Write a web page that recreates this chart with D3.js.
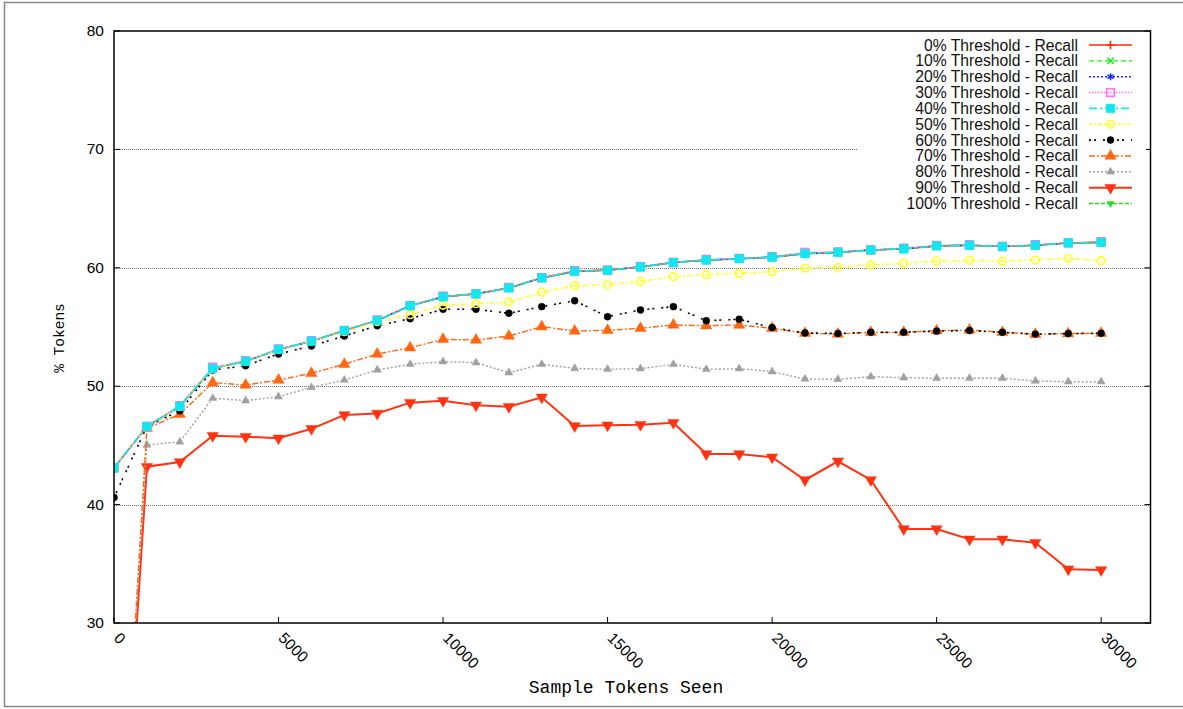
<!DOCTYPE html>
<html>
<head>
<meta charset="utf-8">
<script src="https://cdn.jsdelivr.net/npm/d3@7"></script>
<style>
  body { margin: 0; background: #fff; }
  svg { display: block; }
</style>
</head>
<body>
<div id="chart"></div>
<script>
'use strict';

// sample sizes (x axis)
const tokensSeen = [0, 1000, 2000, 3000, 4000, 5000, 6000, 7000, 8000, 9000, 10000,
  11000, 12000, 13000, 14000, 15000, 16000, 17000, 18000, 19000, 20000,
  21000, 22000, 23000, 24000, 25000, 26000, 27000, 28000, 29000, 30000];

const recall0 = [43.1, 46.6, 48.3, 51.5, 52.1, 53.1, 53.8, 54.7, 55.55, 56.8, 57.55, 57.8, 58.3, 59.15, 59.7, 59.8, 60.07, 60.45, 60.65, 60.77, 60.9, 61.2, 61.3, 61.5, 61.6, 61.85, 61.9, 61.8, 61.9, 62.1, 62.15];
const recall10 = [43.1, 46.6, 48.3, 51.5, 52.1, 53.1, 53.8, 54.7, 55.55, 56.8, 57.55, 57.8, 58.3, 59.15, 59.7, 59.8, 60.07, 60.45, 60.65, 60.77, 60.9, 61.2, 61.3, 61.5, 61.6, 61.85, 61.9, 61.8, 61.9, 62.1, 62.15];
const recall20 = [43.1, 46.6, 48.3, 51.5, 52.1, 53.1, 53.8, 54.7, 55.55, 56.8, 57.55, 57.8, 58.3, 59.15, 59.7, 59.8, 60.07, 60.45, 60.65, 60.77, 60.9, 61.2, 61.3, 61.5, 61.6, 61.85, 61.9, 61.8, 61.9, 62.1, 62.15];
const recall30 = [43.1, 46.6, 48.35, 51.6, 52.15, 53.15, 53.85, 54.7, 55.6, 56.8, 57.6, 57.8, 58.35, 59.15, 59.75, 59.8, 60.1, 60.45, 60.7, 60.8, 60.95, 61.3, 61.35, 61.5, 61.65, 61.9, 61.95, 61.8, 61.95, 62.1, 62.2];
const recall40 = [43.1, 46.6, 48.3, 51.5, 52.1, 53.1, 53.8, 54.7, 55.55, 56.8, 57.55, 57.8, 58.3, 59.15, 59.7, 59.8, 60.07, 60.45, 60.65, 60.77, 60.9, 61.2, 61.3, 61.5, 61.6, 61.85, 61.9, 61.8, 61.9, 62.1, 62.15];
const recall50 = [43.1, 46.6, 48.3, 51.5, 52.1, 53.1, 53.8, 54.6, 55.45, 56.04, 56.83, 56.97, 57.11, 57.93, 58.49, 58.57, 58.86, 59.25, 59.42, 59.53, 59.67, 59.96, 60.04, 60.24, 60.38, 60.57, 60.63, 60.55, 60.66, 60.8, 60.6];
const recall60 = [40.6, 46.6, 47.93, 51.37, 51.73, 52.72, 53.4, 54.24, 55.11, 55.7, 56.5, 56.5, 56.16, 56.72, 57.22, 55.87, 56.44, 56.72, 55.53, 55.65, 54.95, 54.5, 54.45, 54.55, 54.55, 54.65, 54.7, 54.55, 54.4, 54.45, 54.47];
const recall70 = [0, 46.45, 47.63, 50.3, 50.1, 50.52, 51.09, 51.85, 52.72, 53.25, 53.96, 53.9, 54.24, 55.03, 54.66, 54.72, 54.89, 55.17, 55.11, 55.17, 54.89, 54.47, 54.41, 54.55, 54.55, 54.69, 54.75, 54.55, 54.38, 54.44, 54.47];
const recall80 = [0, 45.03, 45.3, 48.98, 48.78, 49.11, 49.9, 50.52, 51.37, 51.85, 52.07, 51.99, 51.14, 51.85, 51.51, 51.43, 51.48, 51.85, 51.43, 51.48, 51.23, 50.61, 50.58, 50.8, 50.72, 50.67, 50.67, 50.67, 50.44, 50.38, 50.38];
const recall90 = [0, 43.2, 43.6, 45.82, 45.74, 45.6, 46.4, 47.57, 47.7, 48.61, 48.78, 48.39, 48.27, 49.06, 46.64, 46.7, 46.75, 46.92, 44.27, 44.27, 44.0, 42.08, 43.66, 42.08, 37.94, 37.94, 37.07, 37.07, 36.78, 34.54, 34.48];
const recall100 = [43.1, 46.6, 48.3, 51.5, 52.1, 53.1, 53.8, 54.7, 55.55, 56.8, 57.55, 57.8, 58.3, 59.15, 59.7, 59.8, 60.07, 60.45, 60.65, 60.77, 60.9, 61.2, 61.3, 61.5, 61.6, 61.85, 61.9, 61.8, 61.9, 62.1, 62.15];

const seriesNames = ['0% Threshold - Recall', '10% Threshold - Recall', '20% Threshold - Recall',
  '30% Threshold - Recall', '40% Threshold - Recall', '50% Threshold - Recall',
  '60% Threshold - Recall', '70% Threshold - Recall', '80% Threshold - Recall',
  '90% Threshold - Recall', '100% Threshold - Recall'];
const seriesValues = [recall0, recall10, recall20, recall30, recall40, recall50,
  recall60, recall70, recall80, recall90, recall100];

const xTicks = [0, 5000, 10000, 15000, 20000, 25000, 30000];
const yTicks = [30, 40, 50, 60, 70, 80];
const yGrid = [40, 50, 60, 70];

// look of each series: colour, dash, marker
const styles = [
  {color: '#ff2a0a', dash: null, sym: d3.symbolPlus, size: 25, fill: false, w: 1.6},
  {color: '#22ee22', dash: '5,3', sym: d3.symbolTimes, size: 28, fill: false, w: 1.4},
  {color: '#1a2cff', dash: '2,2', sym: d3.symbolAsterisk, size: 35, fill: false, w: 1.4},
  {color: '#ff70ff', dash: '1.5,1.5', sym: d3.symbolSquare, size: 60, fill: false, w: 1.4},
  {color: '#11e8ee', dash: '8,3,2,3', sym: d3.symbolSquare, size: 75, fill: true, w: 1.6},
  {color: '#ffff22', dash: '4,2,1.5,2', sym: d3.symbolCircle, size: 45, fill: false, w: 1.6},
  {color: '#000000', dash: '2,3,2,7', sym: d3.symbolCircle, size: 38, fill: true, w: 1.6},
  {color: '#ff6611', dash: '6,2,2,2', sym: d3.symbolTriangle, size: 55, fill: true, w: 1.4},
  {color: '#a0a0a0', dash: '2,2', sym: d3.symbolTriangle, size: 28, fill: true, w: 1.4},
  {color: '#ff3311', dash: null, sym: d3.symbolTriangle, size: 55, fill: true, w: 2, flip: true},
  {color: '#22dd22', dash: '4,2', sym: d3.symbolTriangle, size: 22, fill: true, w: 1.4, flip: true}
];
// order lines are painted in (cyan on top of the bunched group)
const drawOrder = [0, 1, 2, 10, 9, 8, 7, 6, 5, 3, 4];

const W = 1183, H = 709;
const margin = {top: 31, right: 32.5, bottom: 86, left: 114};

const svg = d3.select('#chart').append('svg')
  .attr('width', W)
  .attr('height', H);

// outer frame
svg.append('rect')
  .attr('x', 4.5).attr('y', 2.5)
  .attr('width', W + 10).attr('height', 704)
  .attr('fill', 'none').attr('stroke', '#888').attr('stroke-width', 1.5);

let x = d3.scaleLinear().domain([0, 31500]).range([margin.left, W - margin.right]);
let y = d3.scaleLinear().domain([30, 80]).range([H - margin.bottom, margin.top]);

// grid
svg.append('g')
  .selectAll('line')
  .data(yGrid)
  .enter()
  .append('line')
  .attr('x1', x(0)).attr('x2', x(31500))
  .attr('y1', d => Math.round(y(d)) + 0.5).attr('y2', d => Math.round(y(d)) + 0.5)
  .attr('stroke', '#777').attr('stroke-width', 1).attr('stroke-dasharray', '1,1');

svg.append('defs').append('clipPath').attr('id', 'plot')
  .append('rect')
  .attr('x', x(0)).attr('y', y(80))
  .attr('width', x(31500) - x(0)).attr('height', y(30) - y(80));

// lines + markers
let line = d3.line()
  .x((d, i) => x(tokensSeen[i]))
  .y(d => y(d));

let plot = svg.append('g').attr('clip-path', 'url(#plot)');

function marker(g, s, px, py) {
  let sym = d3.symbol().type(s.sym).size(s.size);
  g.append('path')
    .attr('d', sym())
    .attr('transform', 'translate(' + px + ',' + py + ')' + (s.flip ? ' rotate(180)' : ''))
    .attr('fill', s.fill ? s.color : 'none')
    .attr('stroke', s.color)
    .attr('stroke-width', s.fill ? 0.5 : 1.6);
}

drawOrder.forEach(k => {
  let s = styles[k];
  let vals = seriesValues[k];
  plot.append('path')
    .datum(vals)
    .attr('d', line)
    .attr('fill', 'none')
    .attr('stroke', s.color)
    .attr('stroke-width', s.w)
    .attr('stroke-dasharray', s.dash);
  let g = plot.append('g');
  vals.forEach((v, i) => marker(g, s, x(tokensSeen[i]), y(v)));
});

// frame and ticks
svg.append('rect')
  .attr('x', x(0)).attr('y', y(80))
  .attr('width', x(31500) - x(0)).attr('height', y(30) - y(80))
  .attr('fill', 'none').attr('stroke', '#000').attr('stroke-width', 1.5);

let ticks = svg.append('g').attr('stroke', '#000').attr('stroke-width', 1);
yTicks.forEach(t => {
  ticks.append('line').attr('x1', x(0)).attr('x2', x(0) + 6).attr('y1', y(t)).attr('y2', y(t));
  ticks.append('line').attr('x1', x(31500)).attr('x2', x(31500) - 6).attr('y1', y(t)).attr('y2', y(t));
});
xTicks.forEach(t => {
  ticks.append('line').attr('x1', x(t)).attr('x2', x(t)).attr('y1', y(30)).attr('y2', y(30) - 6);
});

svg.append('g')
  .selectAll('text')
  .data(yTicks)
  .enter()
  .append('text')
  .attr('x', 104).attr('y', d => y(d) + 5)
  .attr('text-anchor', 'end')
  .attr('font-family', 'Liberation Sans, Arial, sans-serif')
  .attr('font-size', 15.5)
  .text(d => d);

svg.append('g')
  .selectAll('text')
  .data(xTicks)
  .enter()
  .append('text')
  .attr('transform', d => 'translate(' + (x(d) - 1) + ',' + (y(30) + 16) + ') rotate(45)')
  .attr('font-family', 'Liberation Sans, Arial, sans-serif')
  .attr('font-size', 15.5)
  .text(d => d);

// axis titles
svg.append('text')
  .attr('x', 626).attr('y', 693)
  .attr('text-anchor', 'middle')
  .attr('font-family', 'Liberation Mono, Courier New, monospace')
  .attr('font-size', 18)
  .text('Sample Tokens Seen');

svg.append('text')
  .attr('transform', 'translate(64,338) rotate(-90)')
  .attr('text-anchor', 'middle')
  .attr('font-family', 'Liberation Mono, Courier New, monospace')
  .attr('font-size', 14.5)
  .text('% Tokens');

// legend
let legend = svg.append('g');
legend.append('rect')
  .attr('x', 858).attr('y', 33)
  .attr('width', 288).attr('height', 180)
  .attr('fill', '#fff');

seriesNames.forEach((name, i) => {
  let s = styles[i];
  let ly = 45 + i * 15.85;
  legend.append('text')
    .attr('x', 1078).attr('y', ly + 5.5)
    .attr('text-anchor', 'end')
    .attr('font-family', 'Liberation Sans, Arial, sans-serif')
    .attr('font-size', 15.7)
    .attr('fill', '#111')
    .text(name);
  legend.append('line')
    .attr('x1', 1089).attr('x2', 1132)
    .attr('y1', ly).attr('y2', ly)
    .attr('stroke', s.color)
    .attr('stroke-width', s.w)
    .attr('stroke-dasharray', s.dash);
  marker(legend, s, 1110.5, ly);
});
</script>
</body>
</html>
